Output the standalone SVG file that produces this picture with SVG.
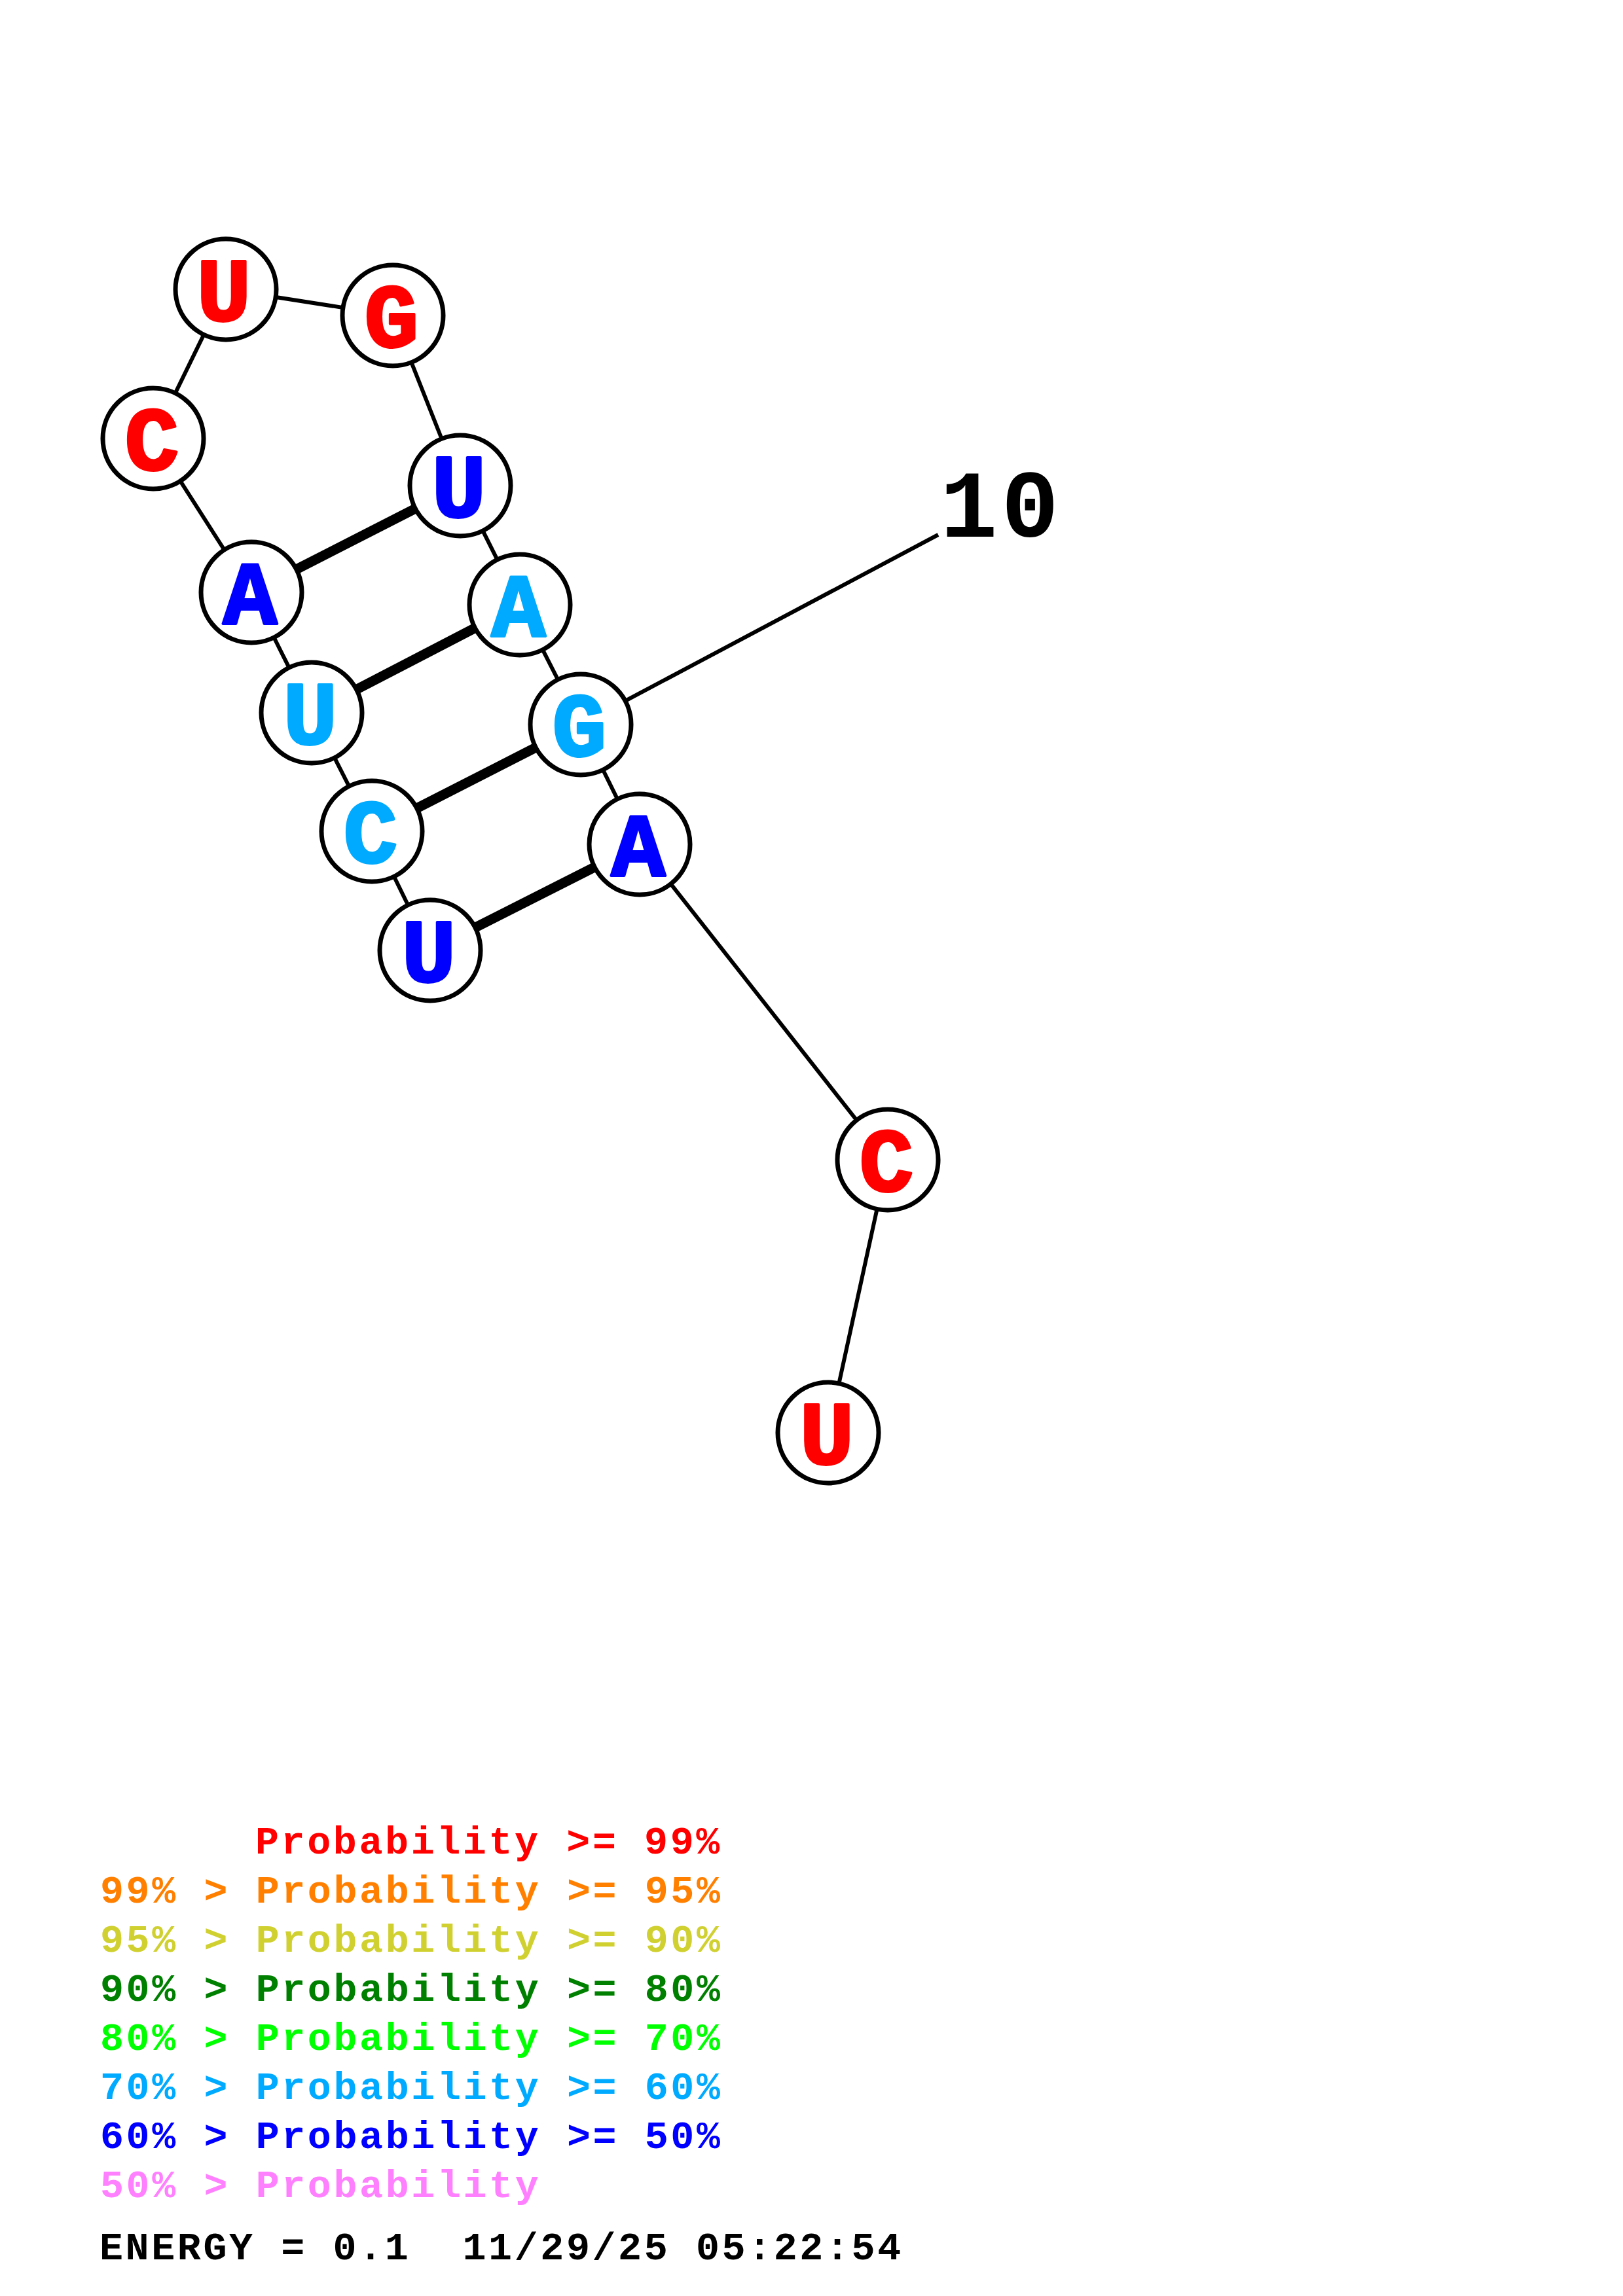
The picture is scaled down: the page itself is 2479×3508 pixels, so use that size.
<svg xmlns="http://www.w3.org/2000/svg" width="2479" height="3508" viewBox="0 0 2479 3508">
<style>
.bb{stroke:#000;stroke-width:6;fill:none}
.bp{stroke:#000;stroke-width:15;fill:none}
.nc{fill:#fff;stroke:#000;stroke-width:7}
.nt{font-family:"Liberation Mono","Courier New",monospace;font-weight:bold;font-size:138px;text-anchor:middle;stroke-width:4px;stroke-linejoin:round}
.lg{font-family:"Liberation Mono","Courier New",monospace;font-weight:bold;font-size:60px;letter-spacing:3.6px}
.r{fill:#FF0000;stroke:#FF0000}.o{fill:#FF8000}.y{fill:#D0D030}.dg{fill:#008000}.g{fill:#00FF00}.lb{fill:#00AAFF;stroke:#00AAFF}.b{fill:#0000FF;stroke:#0000FF}.p{fill:#FF80FF}.k{fill:#000}
.lg.r,.lg.lb,.lg.b{stroke:none}
</style>
<rect width="2479" height="3508" fill="#fff"/>
<g id="connectors">
<line class="bb" x1="657" y1="1452" x2="568" y2="1270"/>
<line class="bb" x1="568" y1="1270" x2="476" y2="1089"/>
<line class="bb" x1="476" y1="1089" x2="384" y2="905"/>
<line class="bb" x1="384" y1="905" x2="234" y2="670"/>
<line class="bb" x1="234" y1="670" x2="345" y2="442"/>
<line class="bb" x1="345" y1="442" x2="600" y2="482"/>
<line class="bb" x1="600" y1="482" x2="703" y2="742"/>
<line class="bb" x1="703" y1="742" x2="794" y2="924"/>
<line class="bb" x1="794" y1="924" x2="887" y2="1107"/>
<line class="bb" x1="887" y1="1107" x2="977" y2="1290"/>
<line class="bb" x1="977" y1="1290" x2="1356" y2="1772"/>
<line class="bb" x1="1356" y1="1772" x2="1265" y2="2189"/>
<line class="bb" x1="887" y1="1107" x2="1433" y2="817"/>
<line class="bp" x1="657" y1="1452" x2="977" y2="1290"/>
<line class="bp" x1="568" y1="1270" x2="887" y2="1107"/>
<line class="bp" x1="476" y1="1089" x2="794" y2="924"/>
<line class="bp" x1="384" y1="905" x2="703" y2="742"/>
</g>
<g id="n1"><circle class="nc" cx="657" cy="1452" r="77"/><text class="nt b" x="655" y="1500">U</text></g>
<g id="n2"><circle class="nc" cx="568" cy="1270" r="77"/><text class="nt lb" x="566" y="1318">C</text></g>
<g id="n3"><circle class="nc" cx="476" cy="1089" r="77"/><text class="nt lb" x="474" y="1137">U</text></g>
<g id="n4"><circle class="nc" cx="384" cy="905" r="77"/><text class="nt b" x="382" y="953">A</text></g>
<g id="n5"><circle class="nc" cx="234" cy="670" r="77"/><text class="nt r" x="232" y="718">C</text></g>
<g id="n6"><circle class="nc" cx="345" cy="442" r="77"/><text class="nt r" x="342" y="490">U</text></g>
<g id="n7"><circle class="nc" cx="600" cy="482" r="77"/><text class="nt r" x="598" y="530">G</text></g>
<g id="n8"><circle class="nc" cx="703" cy="742" r="77"/><text class="nt b" x="701" y="790">U</text></g>
<g id="n9"><circle class="nc" cx="794" cy="924" r="77"/><text class="nt lb" x="792" y="972">A</text></g>
<g id="n10"><circle class="nc" cx="887" cy="1107" r="77"/><text class="nt lb" x="885" y="1155">G</text></g>
<g id="n11"><circle class="nc" cx="977" cy="1290" r="77"/><text class="nt b" x="975" y="1338">A</text></g>
<g id="n12"><circle class="nc" cx="1356" cy="1772" r="77"/><text class="nt r" x="1354" y="1820">C</text></g>
<g id="n13"><circle class="nc" cx="1265" cy="2189" r="77"/><text class="nt r" x="1263" y="2237">U</text></g>
<g id="label10"><text class="nt k" x="1436" y="820" style="text-anchor:start;font-size:146px;letter-spacing:6px;stroke:none">10</text></g>
<g id="legend">
<text class="lg r" x="390" y="2832">Probability &gt;= 99%</text>
<text class="lg o" x="153" y="2907">99% &gt; Probability &gt;= 95%</text>
<text class="lg y" x="153" y="2982">95% &gt; Probability &gt;= 90%</text>
<text class="lg dg" x="153" y="3057">90% &gt; Probability &gt;= 80%</text>
<text class="lg g" x="153" y="3132">80% &gt; Probability &gt;= 70%</text>
<text class="lg lb" x="153" y="3207">70% &gt; Probability &gt;= 60%</text>
<text class="lg b" x="153" y="3282">60% &gt; Probability &gt;= 50%</text>
<text class="lg p" x="153" y="3357">50% &gt; Probability</text>
<text class="lg k" x="152" y="3452" xml:space="preserve">ENERGY = 0.1  11/29/25 05:22:54</text>
</g>
</svg>
